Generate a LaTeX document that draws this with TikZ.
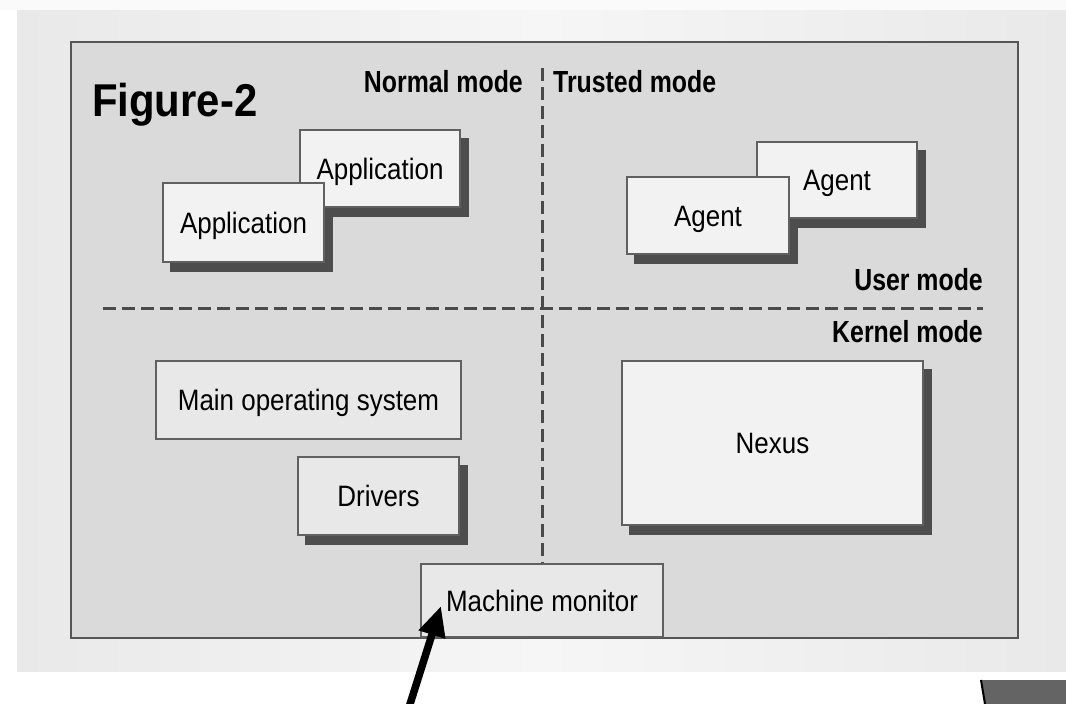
\documentclass[tikz,border=0pt]{standalone}
\usepackage{fontspec}
\setmainfont{Liberation Sans}
\newfontfamily\boxfont[FakeStretch=0.88]{Liberation Sans}
\newfontfamily\labfont[FakeStretch=0.815]{Liberation Sans}
\newfontfamily\figfont[FakeStretch=0.91]{Liberation Sans}
\usetikzlibrary{arrows.meta}
\definecolor{panelc}{HTML}{DADADA}
\definecolor{panelborder}{HTML}{555555}
\definecolor{boxborder}{HTML}{606060}
\definecolor{lightfill}{HTML}{F2F2F2}
\definecolor{midfill}{HTML}{E8E8E8}
\definecolor{shadowc}{HTML}{4D4D4D}
\definecolor{divc}{HTML}{4A4A4A}
\definecolor{bgedge}{HTML}{E9E9E9}
\definecolor{bgmid}{HTML}{F6F6F6}
\definecolor{topstrip}{HTML}{FAFAFA}
\definecolor{darkpatch}{HTML}{646464}
\pgfdeclarelayer{bglayer}
\pgfdeclarelayer{shadowlayer}
\pgfsetlayers{bglayer,shadowlayer,main}
\tikzset{
  box/.style={draw=boxborder, line width=1.6pt, inner sep=0pt,
    font=\boxfont\fontsize{29.5}{34}\selectfont, text height=21pt, text depth=0pt},
  lightbox/.style={box, fill=lightfill},
  midbox/.style={box, fill=midfill},
  modelabel/.style={font=\labfont\bfseries\fontsize{30.5}{36}\selectfont, inner sep=0pt},
  divider/.style={draw=divc, line width=3pt, dash pattern=on 13pt off 6pt},
  pointer/.style={line width=7.5pt, -{Triangle[length=30pt,width=26pt]}},
  boxshadow/.style={fill=shadowc},
}
\begin{document}
\begin{tikzpicture}[x=1pt,y=-1pt]
\useasboundingbox (0,0) rectangle (1066,704);
\clip (0,0) rectangle (1066,704);

% boxes
\node[lightbox, minimum width=160pt, minimum height=77pt] (app2) at (380,168.5) {Application};
\node[lightbox, minimum width=161pt, minimum height=79pt] (app1) at (243.5,222.5) {Application};
\node[lightbox, minimum width=160pt, minimum height=76pt] (agent2) at (837,180) {Agent};
\node[lightbox, minimum width=162pt, minimum height=77pt] (agent1) at (708,215.5) {Agent};
\node[midbox, minimum width=305pt, minimum height=78pt] (mos) at (308.5,400) {Main operating system};
\node[midbox, minimum width=161pt, minimum height=78pt] (drv) at (378.5,496) {Drivers};
\node[lightbox, minimum width=301pt, minimum height=164pt] (nexus) at (772.5,443) {Nexus};
\node[midbox, minimum width=242pt, minimum height=73pt] (mm) at (542,600.5) {Machine monitor};

% labels
\node[font=\figfont\bfseries\fontsize{46}{52}\selectfont, inner sep=0pt, anchor=base west] (fig) at (92,116) {Figure-2};
\node[modelabel, anchor=base east] (normal) at (523,92) {Normal mode};
\node[modelabel, anchor=base west] (trusted) at (553,92) {Trusted mode};
\node[modelabel, anchor=base east] (user) at (983,290) {User mode};
\node[modelabel, anchor=base east] (kernel) at (983,342) {Kernel mode};

% background and panel
\begin{pgfonlayer}{bglayer}
  \fill[white] (0,0) rectangle (1066,704);
  \fill[topstrip] (0,0) rectangle (1066,10);
  \shade[left color=bgedge, right color=bgedge, middle color=bgmid] (17,10) rectangle (1066,671);
  \draw[fill=panelc, draw=panelborder, line width=2.4pt] (71,42) rectangle (1018,638);
  \draw[divider] (542,68) -- (mm.north);
  \draw[divider] (103,308) -- (983,308);
  \fill[darkpatch] (981,680) -- (1066,680) -- (1066,704) -- (985,704) -- cycle;
  \draw[black, line width=2pt] (981,680) -- (985,704);
\end{pgfonlayer}

% shadows
\begin{pgfonlayer}{shadowlayer}
  \foreach \n in {app1,app2,agent1,agent2,drv,nexus}{
    \fill[boxshadow] ([shift={(8,9)}]\n.south west) rectangle ([shift={(8,9)}]\n.north east);
  }
\end{pgfonlayer}

% arrow
\coordinate (arrowtail) at (405,720);
\coordinate (arrowtip) at (441,606);
\draw[pointer] (arrowtail) -- (arrowtip);
\end{tikzpicture}
\end{document}
